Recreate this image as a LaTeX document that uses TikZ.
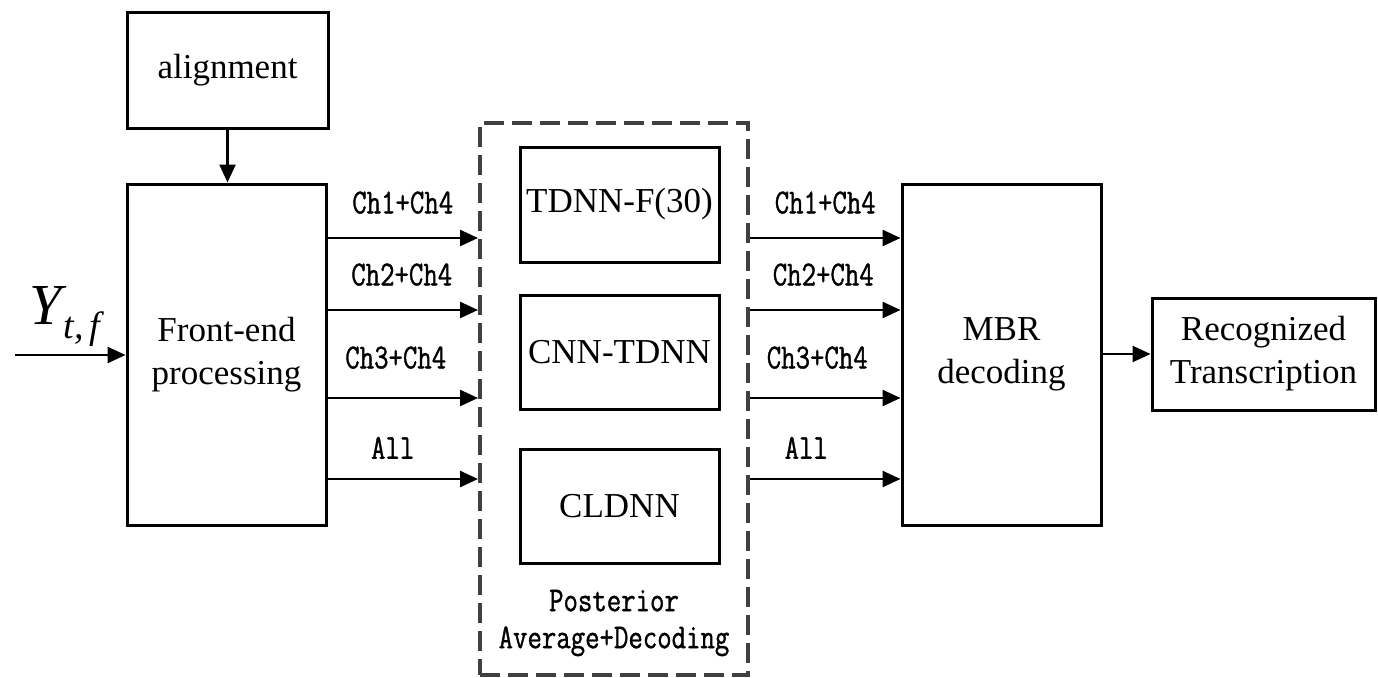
\documentclass[tikz,border=0pt]{standalone}
\usepackage{fontspec}
\setmainfont{Liberation Serif}
\newfontfamily\lblfont[FakeStretch=0.8,FakeBold=1]{Latin Modern Mono}
\usetikzlibrary{arrows.meta}
\begin{document}
\begin{tikzpicture}[x=1pt,y=-1pt,
  box/.style={draw=black,line width=3pt,inner sep=0pt,align=center,font=\fontsize{35}{43}\selectfont},
  arr/.style={line width=2.5pt,-{Triangle[length=18pt,width=16pt]}},
  lbl/.style={font=\fontsize{35}{37}\selectfont\lblfont,inner sep=0pt,align=center},
  dashbox/.style={draw=black!75,line width=4pt,dash pattern=on 20pt off 8pt,inner sep=0pt}]
\useasboundingbox (0,0) rectangle (1378,677);
\fill[white] (0,0) rectangle (1378,677);

\node[box,minimum width=201pt,minimum height=115pt] (align) at (227.5,70.5) {alignment};
\node[box,minimum width=199pt,minimum height=341pt] (fe) at (226.5,354.5) {Front-end\\processing};
\node[dashbox,minimum width=268pt,minimum height=552pt] (dash) at (614,399) {};
\node[box,minimum width=199pt,minimum height=115pt] (tdnn) at (619.5,204.5) {TDNN-F(30)};
\node[box,minimum width=199pt,minimum height=114pt] (cnn) at (619.5,352) {CNN-TDNN};
\node[box,minimum width=199pt,minimum height=114pt] (cldnn) at (619.5,506) {CLDNN};
\node[box,minimum width=199pt,minimum height=341pt] (mbr) at (1001.5,354.5) {MBR\\decoding};
\node[box,minimum width=223pt,minimum height=112pt] (rec) at (1263.5,354) {Recognized\\Transcription};

\node[lbl] (post) at (614,623) {Posterior\\Average+Decoding};

\node[anchor=base west,inner sep=0pt] (ylab) at (29,324) {\fontsize{58}{58}\selectfont\itshape Y\kern2pt\raisebox{-14pt}{\fontsize{38}{38}\selectfont t,\,f}};

\coordinate (in) at (15,355);
\coordinate (y1) at (0,238);
\coordinate (y2) at (0,310);
\coordinate (y3) at (0,398);
\coordinate (y4) at (0,479);

\draw[arr] (in) -- (in -| fe.west);
\draw[arr] (align.south) -- (align.south |- fe.north);

\draw[arr] (fe.east |- y1) -- node[lbl,above=23pt] {Ch1+Ch4} (dash.west |- y1);
\draw[arr] (fe.east |- y2) -- node[lbl,above=23pt,xshift=-1pt] {Ch2+Ch4} (dash.west |- y2);
\draw[arr] (fe.east |- y3) -- node[lbl,above=28pt,xshift=-7pt] {Ch3+Ch4} (dash.west |- y3);
\draw[arr] (fe.east |- y4) -- node[lbl,above=19pt,xshift=-10pt] {All} (dash.west |- y4);

\draw[arr] (dash.east |- y1) -- node[lbl,above=23pt] {Ch1+Ch4} (mbr.west |- y1);
\draw[arr] (dash.east |- y2) -- node[lbl,above=23pt,xshift=-2pt] {Ch2+Ch4} (mbr.west |- y2);
\draw[arr] (dash.east |- y3) -- node[lbl,above=28pt,xshift=-8pt] {Ch3+Ch4} (mbr.west |- y3);
\draw[arr] (dash.east |- y4) -- node[lbl,above=19pt,xshift=-19pt] {All} (mbr.west |- y4);

\draw[arr] (mbr.east |- rec.west) -- (rec.west);
\end{tikzpicture}
\end{document}
